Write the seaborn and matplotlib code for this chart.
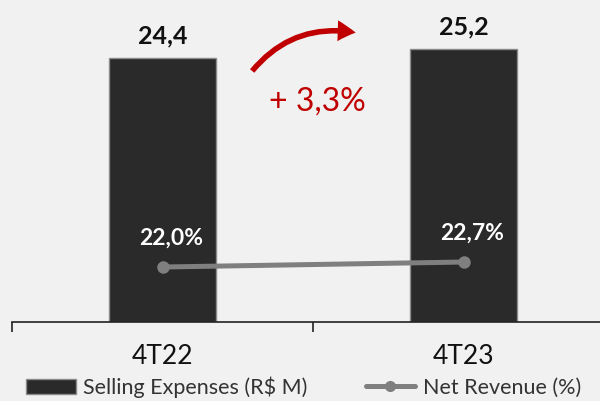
import numpy as np
import matplotlib.pyplot as plt
from matplotlib.patches import Patch
from matplotlib.lines import Line2D
import pandas as pd
import seaborn as sns

# data
quarters = ['4T22', '4T23']
selling_expenses = [24.4, 25.2]          # R$ M
net_revenue_pct = [22.0, 22.7]           # %
bar_labels = ['24,4', '25,2']
pct_labels = ['22,0%', '22,7%']
growth_label = '+ 3,3%'

sns.set_style('white')
plt.rcParams['font.family'] = ['Lato', 'DejaVu Sans']

bg = '#f1f1f1'
fig = plt.figure(figsize=(6, 4.01), dpi=100, facecolor=bg)
# axes runs a little past the right edge, like the original slide crop
ax = fig.add_axes([12 / 600, 79 / 401, 602 / 600, 322 / 401])
ax.set_facecolor(bg)

df = pd.DataFrame({'Quarter': quarters, 'Expenses': selling_expenses})
sns.barplot(data=df, x='Quarter', y='Expenses', color='#2a2a2a', width=0.355,
            edgecolor='#8a8a8a', linewidth=1.0, saturation=1, ax=ax)

# net revenue share on a twin axis
ax2 = ax.twinx()
xpos = np.arange(len(quarters))
sns.lineplot(x=xpos, y=net_revenue_pct, color='#7f7f7f', linewidth=3.6,
             marker='o', markersize=9, markeredgewidth=0, ax=ax2)
ax2.set_ylim(14.3, 59.4)
ax2.set_yticks([])
ax2.set_ylabel('')
for s in ax2.spines.values():
    s.set_visible(False)

ax.set_xlim(-0.5, 1.5)
ax.set_ylim(0, 29.76)
ax.set_xlabel('')
ax.set_ylabel('')
ax.set_yticks([])
for s in ['top', 'right', 'left']:
    ax.spines[s].set_visible(False)
ax.spines['bottom'].set_color('#222222')
ax.spines['bottom'].set_linewidth(1.2)

# separators between categories
ax.set_xticks([-0.5, 0.5, 1.5], minor=True)
ax.tick_params(axis='x', which='minor', direction='out', length=7, width=1.2,
               color='#222222', bottom=True)
ax.tick_params(axis='x', which='major', length=0, pad=16, labelsize=19,
               labelcolor='#111111')

for i, (v, lab) in enumerate(zip(selling_expenses, bar_labels)):
    ax.text(i, v + 1.0, lab, ha='center', va='bottom', fontsize=18,
            fontweight='bold', color='#111111')

for i, (v, lab) in enumerate(zip(net_revenue_pct, pct_labels)):
    ax2.text(i + 0.03, v + 4.1, lab, ha='center', va='center', fontsize=16.5,
             fontweight='bold', color='white')

# growth arrow
ax.annotate('', xy=(0.651, 26.7), xytext=(0.292, 23.0),
            arrowprops=dict(arrowstyle='simple,head_length=1.3,head_width=1.5,tail_width=0.4',
                            connectionstyle='arc3,rad=-0.3', color='#c00000', lw=0))
ax.text(0.515, 20.4, growth_label, ha='center', va='center', fontsize=23,
        color='#c00000')

handles = [Patch(facecolor='#2a2a2a', edgecolor='#8a8a8a'),
           Line2D([0], [0], color='#7f7f7f', lw=3.6, marker='o', markersize=8,
                  markeredgewidth=0)]
fig.legend(handles, ['Selling Expenses (R$ M)', 'Net Revenue (%)'],
           loc='lower left', bbox_to_anchor=(26 / 600, 3 / 401), ncol=2,
           frameon=False, fontsize=15.5, handlelength=2.3, handletextpad=0.35,
           columnspacing=2.7, borderpad=0, borderaxespad=0,
           labelcolor='#333333')

fig.savefig('out.png', dpi=100, facecolor=bg)
